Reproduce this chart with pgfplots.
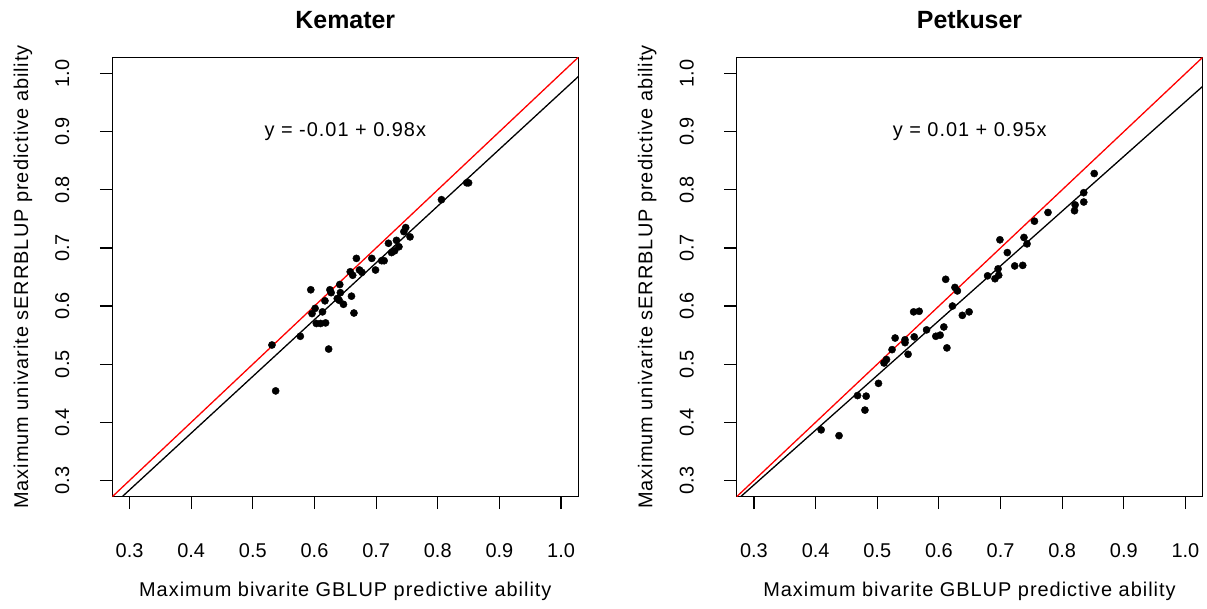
\documentclass[border=0pt]{standalone}
\usepackage{pgfplots}
\pgfplotsset{compat=1.18}
\usepackage{fontspec}
\setmainfont{Liberation Sans}
\newfontfamily\labelfont[LetterSpace=5]{Liberation Sans}

\pgfplotsset{
  panel/.style={
    scale only axis, width=466bp, height=439.4bp,
    anchor=south west,
    xmin=0.272, xmax=1.028, ymin=0.272, ymax=1.028,
    xtick={0.3,0.4,0.5,0.6,0.7,0.8,0.9,1.0},
    ytick={0.3,0.4,0.5,0.6,0.7,0.8,0.9,1.0},
    xtick pos=lower, ytick pos=left,
    tick align=outside, major tick length=12.5bp,
    tick style={black, line width=1.2bp},
    axis line style={black, line width=1.2bp},
    ticklabel style={font=\fontsize{20}{24}\selectfont},
    xticklabel style={anchor=base, yshift=-48bp},
    yticklabel style={rotate=90, anchor=base, yshift=30.6bp},
    /pgf/number format/.cd, fixed, fixed zerofill, precision=1, assume math mode=true,
  },
  dots/.style={only marks, mark=*, mark size=3.6bp, black},
}

\begin{document}
\begin{tikzpicture}[x=1bp, y=1bp]
\path[use as bounding box] (0,0) rectangle (1207,609);

% ---------- Left panel: Kemater ----------
\begin{axis}[panel, at={(112.3bp,112.3bp)}]
\addplot[dots] coordinates {
(0.531,0.533) (0.537,0.454) (0.577,0.548) (0.623,0.526) (0.594,0.628)
(0.596,0.587) (0.601,0.596) (0.603,0.570) (0.610,0.570) (0.618,0.571)
(0.613,0.590) (0.617,0.609) (0.625,0.628) (0.627,0.623) (0.637,0.613)
(0.640,0.610) (0.647,0.603) (0.642,0.623) (0.641,0.637) (0.660,0.617)
(0.664,0.588) (0.658,0.659) (0.668,0.682) (0.662,0.653) (0.673,0.662)
(0.677,0.658) (0.693,0.682) (0.699,0.662) (0.709,0.678) (0.713,0.678)
(0.720,0.708) (0.725,0.692) (0.730,0.695) (0.733,0.713) (0.737,0.702)
(0.745,0.728) (0.748,0.735) (0.755,0.719) (0.806,0.783) (0.847,0.812)
(0.850,0.812)
};
\addplot[red, line width=1.3bp] coordinates {(0.2,0.2) (1.1,1.1)};
\addplot[black, line width=1.3bp] coordinates {(0.2,0.1860) (1.1,1.0651)};
\node[font=\labelfont\fontsize{20}{24}\selectfont] at (axis cs:0.65,0.9) {y = -0.01 + 0.98x};
\end{axis}

% ---------- Right panel: Petkuser ----------
\begin{axis}[panel, at={(736.7bp,112.3bp)}]
\addplot[dots] coordinates {
(0.409,0.387) (0.438,0.377) (0.468,0.446) (0.482,0.445) (0.480,0.421)
(0.502,0.467) (0.511,0.502) (0.515,0.508) (0.524,0.525) (0.529,0.545)
(0.545,0.542) (0.545,0.537) (0.550,0.517) (0.560,0.547) (0.559,0.590)
(0.568,0.591) (0.580,0.559) (0.595,0.548) (0.602,0.550) (0.608,0.564)
(0.613,0.528) (0.611,0.646) (0.622,0.600) (0.626,0.632) (0.630,0.626)
(0.638,0.584) (0.649,0.590) (0.679,0.652) (0.691,0.647) (0.697,0.653)
(0.696,0.664) (0.699,0.714) (0.711,0.692) (0.723,0.669) (0.736,0.670)
(0.738,0.718) (0.743,0.707) (0.755,0.746) (0.777,0.761) (0.820,0.764)
(0.821,0.774) (0.835,0.779) (0.835,0.795) (0.852,0.828)
};
\addplot[red, line width=1.3bp] coordinates {(0.2,0.2) (1.1,1.1)};
\addplot[black, line width=1.3bp] coordinates {(0.2,0.1981) (1.1,1.0459)};
\node[font=\labelfont\fontsize{20}{24}\selectfont] at (axis cs:0.65,0.9) {y = 0.01 + 0.95x};
\end{axis}

% ---------- Titles and axis labels ----------
\node[anchor=base, font=\bfseries\fontsize{25}{30}\selectfont] at (345.3,580.7) {Kemater};
\node[anchor=base, font=\bfseries\fontsize{25}{30}\selectfont] at (969.5,580.7) {Petkuser};
\node[anchor=base, font=\labelfont\fontsize{20}{24}\selectfont] at (345.3,12.3) {Maximum bivarite GBLUP predictive ability};
\node[anchor=base, font=\labelfont\fontsize{20}{24}\selectfont] at (969.5,12.3) {Maximum bivarite GBLUP predictive ability};
\node[anchor=base, rotate=90, font=\labelfont\fontsize{20}{24}\selectfont] at (28,332) {Maximum univarite sERRBLUP predictive ability};
\node[anchor=base, rotate=90, font=\labelfont\fontsize{20}{24}\selectfont] at (652.4,332) {Maximum univarite sERRBLUP predictive ability};
\end{tikzpicture}
\end{document}
